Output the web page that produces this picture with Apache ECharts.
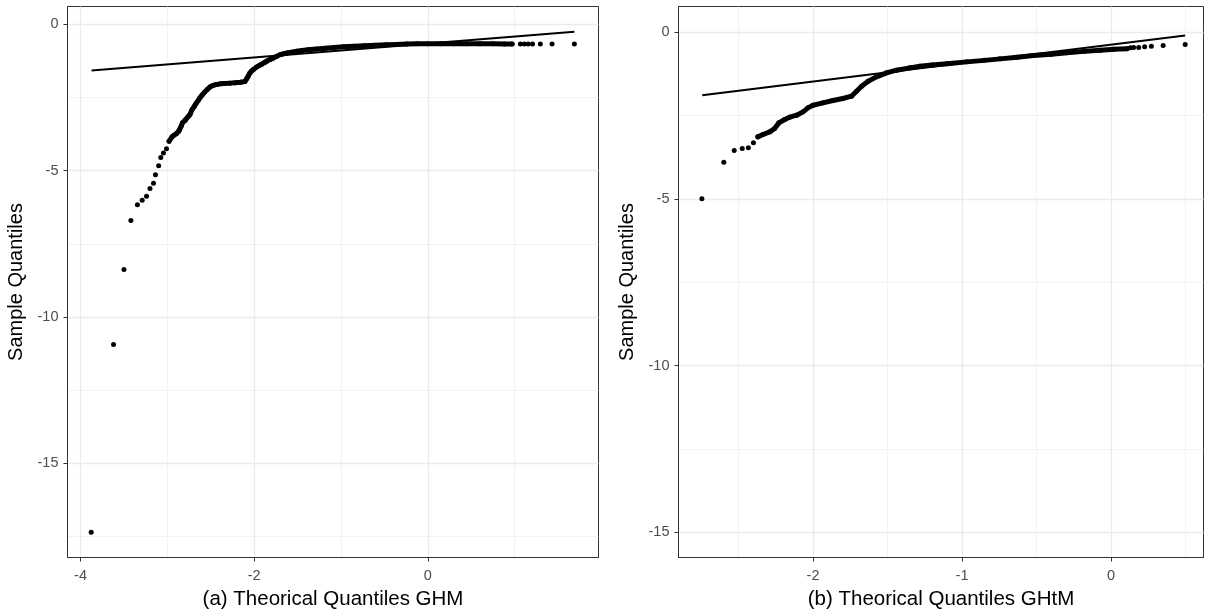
<!DOCTYPE html>
<html>
<head>
<meta charset="utf-8">
<title>QQ plots GHM / GHtM</title>
<script src="https://cdn.jsdelivr.net/npm/echarts@6/dist/echarts.min.js"></script>
<style>
  html, body { margin: 0; padding: 0; background: #fff; }
  #main { width: 1208px; height: 616px; }
</style>
</head>
<body>
<div id="main"></div>
<script>
// tick positions
var leftXTicks = [-4, -2, 0];
var leftXMinor = [-3, -1, 1];
var leftYTicks = [-15, -10, -5, 0];
var leftYMinor = [-17.5, -12.5, -7.5, -2.5];
var rightXTicks = [-2, -1, 0];
var rightXMinor = [-2.5, -1.5, -0.5, 0.5];
var rightYTicks = [-15, -10, -5, 0];
var rightYMinor = [-12.5, -7.5, -2.5];

// (a) GHM: [theoretical, sample]
var leftTail = [[-3.877,-17.36],[-3.62,-10.94],[-3.50,-8.38],[-3.42,-6.70],[-3.345,-6.16],[-3.29,-6.01],
  [-3.24,-5.87],[-3.20,-5.61],[-3.16,-5.43],[-3.137,-5.14],[-3.10,-4.83],[-3.076,-4.55],[-3.045,-4.39],[-3.01,-4.25]];
var leftBand = [[-2.98,-3.99],[-2.946,-3.84],[-2.92,-3.78],[-2.895,-3.73],[-2.87,-3.65],[-2.857,-3.59],[-2.84,-3.47],
  [-2.826,-3.36],[-2.80,-3.29],[-2.788,-3.25],[-2.76,-3.15],[-2.74,-3.08],[-2.715,-2.91],[-2.69,-2.80],[-2.67,-2.70],
  [-2.645,-2.60],[-2.626,-2.51],[-2.60,-2.41],[-2.57,-2.31],[-2.54,-2.22],[-2.51,-2.14],[-2.47,-2.08],[-2.434,-2.05],
  [-2.39,-2.03],[-2.34,-2.02],[-2.28,-2.005],[-2.22,-1.99],[-2.16,-1.975],[-2.107,-1.95],[-2.085,-1.85],[-2.07,-1.77],
  [-2.05,-1.66],[-2.03,-1.59],[-2.01,-1.54],[-1.97,-1.45],[-1.94,-1.40],[-1.915,-1.36],[-1.88,-1.30],[-1.857,-1.25],
  [-1.82,-1.20],[-1.78,-1.15],[-1.74,-1.09],[-1.70,-1.03],[-1.66,-1.0],[-1.62,-0.975],[-1.57,-0.945],[-1.51,-0.915],
  [-1.45,-0.89],[-1.38,-0.865],[-1.28,-0.835],[-1.18,-0.81],[-1.08,-0.785],[-0.97,-0.765],[-0.85,-0.745],[-0.73,-0.73],
  [-0.60,-0.71],[-0.48,-0.695],[-0.36,-0.68],[-0.24,-0.67],[-0.12,-0.66],[0.0,-0.655],[0.15,-0.655],[0.3,-0.655],
  [0.45,-0.66],[0.6,-0.66],[0.75,-0.66],[0.88,-0.665],[0.97,-0.665]];
var leftHead = [[1.065,-0.665],[1.11,-0.665],[1.155,-0.665],[1.205,-0.665],[1.295,-0.665],[1.43,-0.665],[1.687,-0.665]];
var leftRefLine = [[-3.873,-1.573],[1.687,-0.25]];

// (b) GHtM
var rightTail = [[-2.746,-5.0],[-2.599,-3.90],[-2.529,-3.55],[-2.475,-3.49],[-2.434,-3.47],[-2.40,-3.32]];
var rightBand = [[-2.37,-3.14],[-2.336,-3.07],[-2.29,-2.99],[-2.258,-2.89],[-2.229,-2.72],[-2.19,-2.62],[-2.157,-2.55],
  [-2.11,-2.49],[-2.067,-2.39],[-2.034,-2.27],[-2.0,-2.19],[-1.933,-2.12],[-1.866,-2.05],[-1.80,-1.99],[-1.742,-1.92],
  [-1.708,-1.77],[-1.674,-1.62],[-1.63,-1.47],[-1.574,-1.34],[-1.506,-1.22],[-1.44,-1.14],[-1.35,-1.07],[-1.283,-1.02],
  [-1.2,-0.985],[-1.1,-0.945],[-0.968,-0.89],[-0.85,-0.845],[-0.744,-0.80],[-0.63,-0.75],[-0.52,-0.70],[-0.40,-0.66],
  [-0.296,-0.62],[-0.18,-0.575],[-0.072,-0.54],[0.02,-0.515],[0.108,-0.495]];
var rightHead = [[0.13,-0.468],[0.152,-0.459],[0.186,-0.459],[0.226,-0.438],[0.271,-0.42],[0.35,-0.399],[0.498,-0.369]];
var rightRefLine = [[-2.744,-1.89],[0.498,-0.10]];

var FONT = '"Liberation Sans", Arial, sans-serif';
var chart = echarts.init(document.getElementById('main'));

function majorAxis(grid, min, max, ticks, name, isY) {
  return {
    gridIndex: grid, type: 'value', min: min, max: max,
    position: isY ? 'left' : 'bottom',
    axisLine: { show: true, onZero: false, lineStyle: { color: '#333', width: 1 } },
    axisTick: { show: true, customValues: ticks, length: 4, lineStyle: { color: '#333', width: 1 } },
    axisLabel: { customValues: ticks, color: '#4d4d4d', fontSize: 14.5, fontFamily: FONT, margin: isY ? 9 : 11 },
    splitLine: { show: true, lineStyle: { color: '#ebebeb', width: 1.3 } },
    name: name, nameLocation: 'middle',
    nameGap: isY ? 41 : 31,
    nameTextStyle: { color: '#000', fontSize: isY ? 20 : 20.5, fontFamily: FONT }
  };
}
function minorAxis(grid, min, max, ticks, isY) {
  return {
    gridIndex: grid, type: 'value', min: min, max: max,
    position: isY ? 'right' : 'top',
    axisLine: { show: false, onZero: false },
    axisTick: { show: false, customValues: ticks },
    axisLabel: { show: false, customValues: ticks },
    splitLine: { show: true, lineStyle: { color: '#f0f0f0', width: 0.8 } }
  };
}
function pts(data, x, y) {
  return { type: 'scatter', xAxisIndex: x, yAxisIndex: y, data: data, symbol: 'circle', symbolSize: 5,
    itemStyle: { color: '#000', opacity: 1 }, silent: true, z: 3 };
}
function band(data, x, y) {
  return { type: 'line', xAxisIndex: x, yAxisIndex: y, data: data, showSymbol: false, symbol: 'none',
    lineStyle: { color: '#000', width: 5, cap: 'round', join: 'round' }, silent: true, z: 3 };
}
function ref(data, x, y) {
  return { type: 'line', xAxisIndex: x, yAxisIndex: y, data: data, showSymbol: false, symbol: 'none',
    lineStyle: { color: '#000', width: 2 }, silent: true, z: 4 };
}

var option = {
  animation: false,
  backgroundColor: '#fff',
  grid: [
    { left: 67.5, top: 6.5, width: 531, height: 551, show: true, borderColor: '#333', borderWidth: 1, backgroundColor: '#fff' },
    { left: 678.5, top: 6.5, width: 525, height: 551, show: true, borderColor: '#333', borderWidth: 1, backgroundColor: '#fff' }
  ],
  xAxis: [
    majorAxis(0, -4.150, 1.965, leftXTicks, '(a) Theorical Quantiles GHM', false),
    minorAxis(0, -4.150, 1.965, leftXMinor, false),
    majorAxis(1, -2.903, 0.621, rightXTicks, '(b) Theorical Quantiles GHtM', false),
    minorAxis(1, -2.903, 0.621, rightXMinor, false)
  ],
  yAxis: [
    majorAxis(0, -18.224, 0.615, leftYTicks, 'Sample Quantiles', true),
    minorAxis(0, -18.224, 0.615, leftYMinor, true),
    majorAxis(1, -15.759, 0.771, rightYTicks, 'Sample Quantiles', true),
    minorAxis(1, -15.759, 0.771, rightYMinor, true)
  ],
  series: [
    pts(leftTail.concat(leftBand, leftHead), 0, 0),
    band(leftBand, 0, 0),
    ref(leftRefLine, 0, 0),
    pts(rightTail.concat(rightBand, rightHead), 2, 2),
    band(rightBand, 2, 2),
    ref(rightRefLine, 2, 2)
  ]
};
chart.setOption(option);
</script>
</body>
</html>
